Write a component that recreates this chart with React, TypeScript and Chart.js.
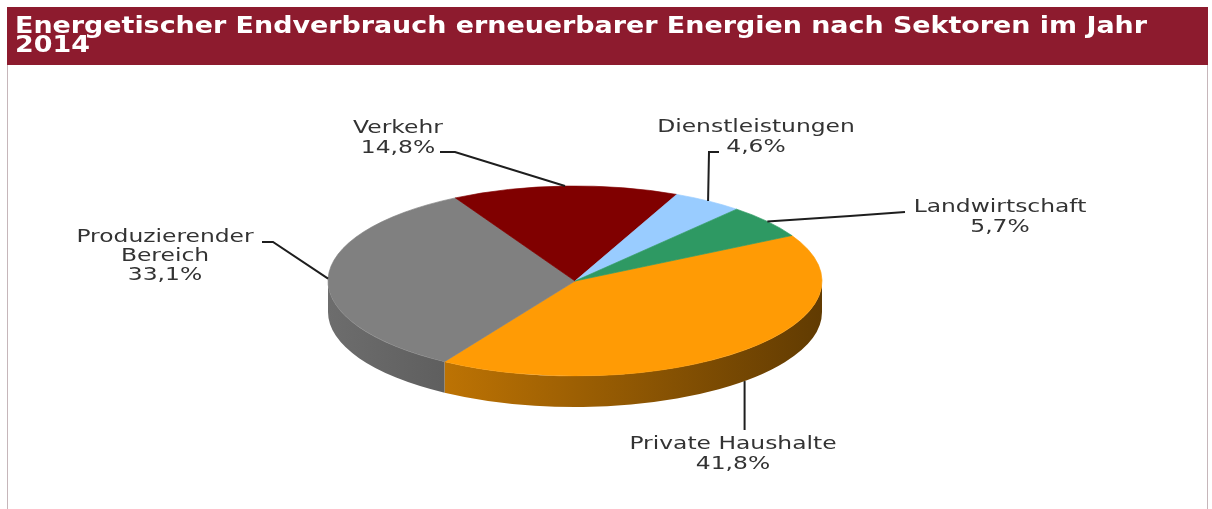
import React, { useEffect, useRef } from 'react';
import { Chart, registerables } from 'chart.js';

Chart.register(...registerables);

// ---------- data ----------
const TITLE_LINES = [
  'Energetischer Endverbrauch erneuerbarer Energien nach Sektoren im Jahr',
  '2014',
];
const SECTORS = ['Private Haushalte', 'Produzierender Bereich', 'Verkehr', 'Dienstleistungen', 'Landwirtschaft'];
const SECTOR_LABEL_LINES = [['Private Haushalte'], ['Produzierender', 'Bereich'], ['Verkehr'], ['Dienstleistungen'], ['Landwirtschaft']];
const SHARES = [41.8, 33.1, 14.8, 4.6, 5.7];
const COLORS = ['#FF9B05', '#808080', '#800000', '#99CCFF', '#2E9963'];

// ---------- layout / style ----------
const PIE = { cx: 575, cy: 281, rx: 247, ry: 95, depth: 31 };
const LABEL_LAYOUT = [
  { x: 733, y: 449, dy: 20, leader: [[null, 430]] },
  { x: 165, y: 242, dy: 19, leader: [[273, 242], [262, 242]] },
  { x: 398, y: 133, dy: 20, leader: [[455, 152], [440, 152]] },
  { x: 756, y: 132, dy: 20, leader: [[709, 152], [719, 152]] },
  { x: 1000, y: 212, dy: 20, leader: [[850, 216], [905, 212]] },
];
const LABEL_SCALE_X = 1.3;
const TITLE_WIDTH = 1132;

const fmt = (v: number) => v.toFixed(1).replace('.', ',') + '%';

function shade(hex: string, f: number) {
  const n = parseInt(hex.slice(1), 16);
  const r = (n >> 16) & 255, g = (n >> 8) & 255, b = n & 255;
  return `rgb(${Math.round(r * f)},${Math.round(g * f)},${Math.round(b * f)})`;
}

const pie3d = {
  id: 'pie3d',
  beforeDraw(chart: any) {
    const ctx = chart.ctx as CanvasRenderingContext2D;
    ctx.save();
    ctx.fillStyle = '#ffffff';
    ctx.fillRect(0, 0, chart.width, chart.height);
    ctx.strokeStyle = '#c6b6ba';
    ctx.lineWidth = 1;
    ctx.beginPath();
    ctx.moveTo(7.5, 60);
    ctx.lineTo(7.5, chart.height);
    ctx.moveTo(1207.5, 60);
    ctx.lineTo(1207.5, chart.height);
    ctx.stroke();
    ctx.fillStyle = '#8D1B2E';
    ctx.fillRect(7, 7, 1201, 58);
    ctx.fillStyle = '#ffffff';
    ctx.font = 'bold 23px "DejaVu Sans"';
    ctx.textBaseline = 'alphabetic';
    ctx.textAlign = 'left';
    const k = TITLE_WIDTH / ctx.measureText(TITLE_LINES[0]).width;
    TITLE_LINES.forEach((t, i) => {
      ctx.save();
      ctx.translate(15, 33 + i * 19);
      ctx.scale(k, 1);
      ctx.fillText(t, 0, 0);
      ctx.restore();
    });
    ctx.restore();
  },
  beforeDatasetsDraw(chart: any) {
    const ctx = chart.ctx as CanvasRenderingContext2D;
    const meta = chart.getDatasetMeta(0);
    const first = meta.data[0];
    const { x, y, outerRadius } = first.getProps(['x', 'y', 'outerRadius'], true);
    meta.data.forEach((arc: any, i: number) => {
      const { startAngle, endAngle } = arc.getProps(['startAngle', 'endAngle'], true);
      for (let k = -1; k <= 1; k++) {
        const lo = Math.max(startAngle, k * 2 * Math.PI);
        const hi = Math.min(endAngle, k * 2 * Math.PI + Math.PI);
        if (hi <= lo) continue;
        const g = ctx.createLinearGradient(PIE.cx - PIE.rx, 0, PIE.cx + PIE.rx, 0);
        g.addColorStop(0, shade(COLORS[i], 0.85));
        g.addColorStop(1, shade(COLORS[i], 0.38));
        ctx.beginPath();
        ctx.ellipse(PIE.cx, PIE.cy, PIE.rx, PIE.ry, 0, lo, hi);
        ctx.ellipse(PIE.cx, PIE.cy + PIE.depth, PIE.rx, PIE.ry, 0, hi, lo, true);
        ctx.closePath();
        ctx.fillStyle = g;
        ctx.fill();
      }
    });
    ctx.save();
    ctx.translate(PIE.cx, PIE.cy);
    ctx.scale(PIE.rx / outerRadius, PIE.ry / outerRadius);
    ctx.translate(-x, -y);
  },
  afterDatasetsDraw(chart: any) {
    const ctx = chart.ctx as CanvasRenderingContext2D;
    ctx.restore();
    const meta = chart.getDatasetMeta(0);
    ctx.save();
    meta.data.forEach((arc: any, i: number) => {
      const { startAngle, endAngle } = arc.getProps(['startAngle', 'endAngle'], true);
      const mid = (startAngle + endAngle) / 2;
      const ax = PIE.cx + PIE.rx * Math.cos(mid);
      let ay = PIE.cy + PIE.ry * Math.sin(mid);
      if (Math.sin(mid) > 0.2) ay += PIE.depth;
      const L = LABEL_LAYOUT[i];
      ctx.beginPath();
      ctx.moveTo(ax, ay);
      L.leader.forEach(([px, py]) => ctx.lineTo(px ?? ax, py as number));
      ctx.strokeStyle = '#1e1e1e';
      ctx.lineWidth = 2;
      ctx.stroke();
      const lines = [...SECTOR_LABEL_LINES[i], fmt(SHARES[i])];
      ctx.font = '18px "DejaVu Sans"';
      ctx.fillStyle = '#333333';
      ctx.textAlign = 'center';
      ctx.textBaseline = 'alphabetic';
      lines.forEach((t, j) => {
        ctx.save();
        ctx.translate(L.x, L.y + j * L.dy);
        ctx.scale(LABEL_SCALE_X, 1);
        ctx.fillText(t, 0, 0);
        ctx.restore();
      });
    });
    ctx.restore();
  },
};

export default function App() {
  const ref = useRef<HTMLCanvasElement | null>(null);
  useEffect(() => {
    if (!ref.current) return;
    const chart = new Chart(ref.current, {
      type: 'pie',
      data: {
        labels: SECTORS,
        datasets: [
          {
            data: SHARES,
            backgroundColor: COLORS,
            borderColor: COLORS,
            borderWidth: 1,
          },
        ],
      },
      options: {
        responsive: false,
        animation: false,
        devicePixelRatio: 1,
        rotation: 61.4,
        events: [],
        layout: { padding: 0 },
        plugins: {
          legend: { display: false },
          tooltip: { enabled: false },
          title: { display: false },
        },
      },
      plugins: [pie3d],
    });
    return () => chart.destroy();
  }, []);
  return (
    <div style={{ position: 'absolute', left: 0, top: 0, width: 1212, height: 509, background: '#fff' }}>
      <canvas ref={ref} width={1212} height={509} style={{ display: 'block', width: 1212, height: 509 }} />
    </div>
  );
}
